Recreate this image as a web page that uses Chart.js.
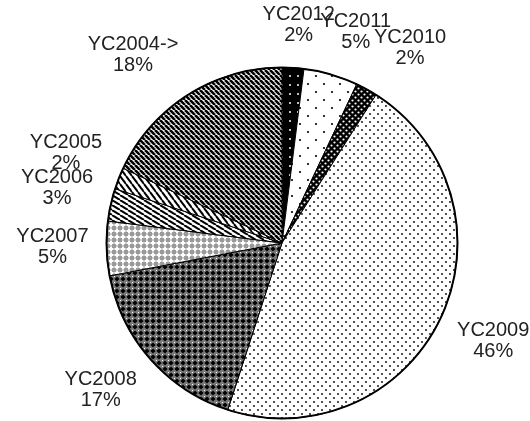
<!DOCTYPE html>
<html>
<head>
<meta charset="utf-8">
<script src="https://cdn.jsdelivr.net/npm/chart.js@4"></script>
<style>
  body { margin: 0; background: #fff; }
</style>
</head>
<body>
<canvas id="pie" width="530" height="421"></canvas>
<script>
// slices clockwise from 12 o'clock
const categories = ['YC2012', 'YC2011', 'YC2010', 'YC2009', 'YC2008', 'YC2007', 'YC2006', 'YC2005', 'YC2004->'];
const shares = [2, 5, 2, 46, 17, 5, 3, 2, 18];

// small tiles used as fills
function tile(w, h, draw) {
  const c = document.createElement('canvas');
  c.width = w; c.height = h;
  const g = c.getContext('2d');
  draw(g, w, h);
  return g.createPattern(c, 'repeat');
}

function dots(w, h, bg, fg, r, pts) {
  return tile(w, h, (g) => {
    g.fillStyle = bg; g.fillRect(0, 0, w, h);
    g.fillStyle = fg;
    pts.forEach(p => { g.beginPath(); g.arc(p[0], p[1], r, 0, Math.PI * 2); g.fill(); });
  });
}

function stripes(w, h, lw) {
  return tile(w, h, (g) => {
    g.fillStyle = '#fff'; g.fillRect(0, 0, w, h);
    g.strokeStyle = '#000'; g.lineWidth = lw;
    for (let k = -1; k <= 1; k++) {
      g.beginPath(); g.moveTo(k * w, 0); g.lineTo(k * w + w, h); g.stroke();
    }
  });
}

const fills = [
  dots(8, 9, '#000', '#fff', 1, [[2, 4]]),
  dots(16, 16, '#fff', '#000', 1.1, [[4, 4], [12, 12]]),
  dots(6, 6, '#000', '#fff', 1.1, [[1.5, 1.5], [4.5, 4.5]]),
  dots(8, 8, '#fff', '#000', 0.9, [[2, 2], [6, 6]]),
  tile(6, 6, (g) => {
    g.fillStyle = '#7a7a7a'; g.fillRect(0, 0, 6, 6);
    g.fillStyle = '#000';
    g.beginPath(); g.moveTo(3, 0.4); g.lineTo(5.6, 3); g.lineTo(3, 5.6); g.lineTo(0.4, 3); g.fill();
    g.fillStyle = '#fff'; g.fillRect(0, 0, 1, 1);
  }),
  tile(6, 6, (g) => {
    g.fillStyle = '#9a9a9a'; g.fillRect(0, 0, 6, 6);
    g.fillStyle = '#fff';
    g.fillRect(2, 0.5, 2, 5);
    g.fillRect(0.5, 2, 5, 2);
  }),
  stripes(8, 5, 2),
  stripes(6, 8, 2),
  stripes(5, 5, 2.6)
];

const labelPlugin = {
  id: 'outsideLabels',
  afterDatasetsDraw(chart) {
    const ctx = chart.ctx;
    const vals = chart.data.datasets[0].data;
    const total = vals.reduce((a, b) => a + b, 0);
    const gap = 18, lineH = 21, halfH = 22;
    const clamp = v => Math.max(-1, Math.min(1, v));
    const arcs = chart.getDatasetMeta(0).data;

    // heavier outline round the whole pie
    const a0 = arcs[0].getProps(['x', 'y', 'outerRadius'], true);
    ctx.save();
    ctx.strokeStyle = '#000';
    ctx.lineWidth = 2;
    ctx.beginPath();
    ctx.arc(a0.x, a0.y, a0.outerRadius, 0, Math.PI * 2);
    ctx.stroke();

    ctx.font = '20px "Liberation Sans", Arial, sans-serif';
    ctx.fillStyle = '#222';
    ctx.textAlign = 'center';
    ctx.textBaseline = 'middle';
    arcs.forEach((arc, i) => {
      const p = arc.getProps(['x', 'y', 'startAngle', 'endAngle', 'outerRadius'], true);
      const mid = (p.startAngle + p.endAngle) / 2;
      const dx = Math.cos(mid), dy = Math.sin(mid);
      const lines = [chart.data.labels[i], Math.round(vals[i] / total * 100) + '%'];
      const halfW = Math.max(...lines.map(t => ctx.measureText(t).width)) / 2;
      const cx = p.x + (p.outerRadius + gap) * dx + halfW * clamp(2 * dx);
      const cy = p.y + (p.outerRadius + gap) * dy + halfH * clamp(2 * dy) - 3;
      ctx.fillText(lines[0], cx, cy - lineH / 2);
      ctx.fillText(lines[1], cx, cy + lineH / 2);
    });
    ctx.restore();
  }
};

new Chart(document.getElementById('pie'), {
  type: 'pie',
  data: {
    labels: categories,
    datasets: [{
      data: shares,
      backgroundColor: fills,
      borderColor: '#000',
      borderWidth: 1
    }]
  },
  options: {
    responsive: false,
    animation: false,
    layout: { padding: { top: 67, bottom: 2, left: 106, right: 72 } },
    plugins: {
      legend: { display: false },
      tooltip: { enabled: false }
    }
  },
  plugins: [labelPlugin]
});
</script>
</body>
</html>
